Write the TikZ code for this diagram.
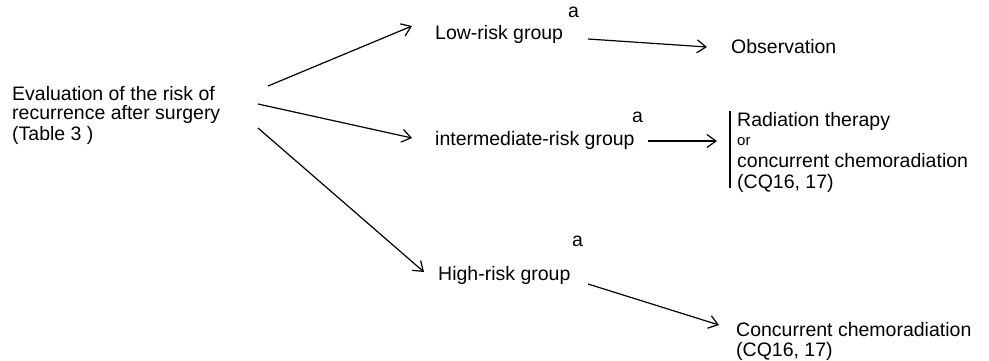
\documentclass[tikz,border=0pt]{standalone}
\usepackage{fontspec}
\setmainfont{Liberation Sans}
\usetikzlibrary{arrows.meta}
\begin{document}
\begin{tikzpicture}[x=1pt,y=-1pt,
  lbl/.style={anchor=base west,inner sep=0pt,font=\fontsize{19.5}{20.5}\selectfont},
  small/.style={anchor=base west,inner sep=0pt,font=\fontsize{15}{16}\selectfont},
  conn/.style={line width=1.2pt,-{Straight Barb[length=9pt,width=13pt,line width=1.2pt]}}]
\useasboundingbox (0,0) rectangle (989,361);
% left block
\node[lbl] (e1) at (12,100) {Evaluation of the risk of};
\node[lbl] (e2) at (12,120) {recurrence after surgery};
\node[lbl] (e3) at (12,140) {(Table 3 )};
% groups
\node[lbl] (low) at (435,40) {Low-risk group};
\node[lbl] (lowa) at (568,18) {a};
\node[lbl] (obs) at (731,54) {Observation};
\node[lbl] (mid) at (435,145) {intermediate-risk group};
\node[lbl] (mida) at (632,123) {a};
\node[lbl] (high) at (438,280) {High-risk group};
\node[lbl] (higha) at (572,246) {a};
% radiation block
\node[lbl] (r1) at (737,127) {Radiation therapy};
\node[small] (r2) at (737,146) {or};
\node[lbl] (r3) at (737,167) {concurrent chemoradiation};
\node[lbl] (r4) at (737,188) {(CQ16, 17)};
\coordinate (bart) at (730,111);
\coordinate (barb) at (730,188);
\draw[line width=1.2pt] (bart) -- (barb);
% concurrent
\node[lbl] (c1) at (736,336) {Concurrent chemoradiation};
\node[lbl] (c2) at (736,356) {(CQ16, 17)};
% arrow endpoints
\coordinate (a1s) at (268,86);  \coordinate (a1e) at (412,26);
\coordinate (a2s) at (588,39);  \coordinate (a2e) at (707,47);
\coordinate (a3s) at (258,104); \coordinate (a3e) at (412,138);
\coordinate (a4s) at (648,141); \coordinate (a4e) at (717,141);
\coordinate (a5s) at (258,128); \coordinate (a5e) at (424,272);
\coordinate (a6s) at (588,284); \coordinate (a6e) at (719,325);
\draw[conn] (a1s) -- (a1e);
\draw[conn] (a2s) -- (a2e);
\draw[conn] (a3s) -- (a3e);
\draw[conn] (a4s) -- (a4e);
\draw[conn] (a5s) -- (a5e);
\draw[conn] (a6s) -- (a6e);
\end{tikzpicture}
\end{document}
